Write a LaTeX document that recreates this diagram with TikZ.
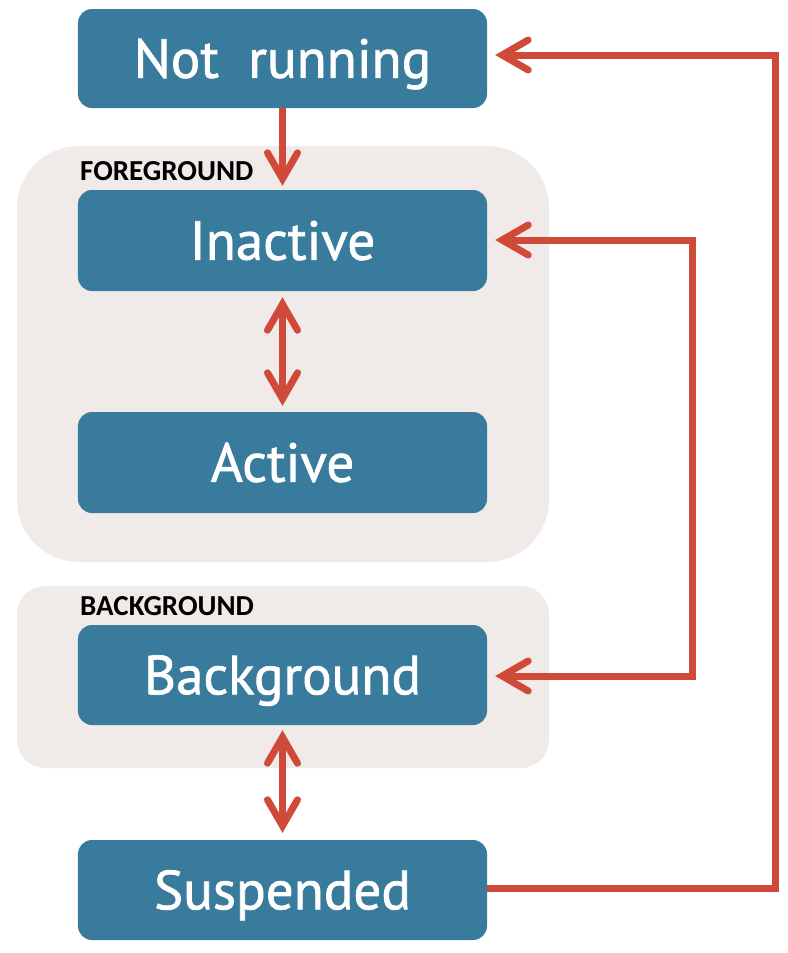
\documentclass[tikz,border=0pt]{standalone}
\usepackage{fontspec}
\setmainfont{PT Sans}
\newfontfamily\boxfont[FakeBold=1.3]{PT Sans}
\newfontfamily\labelfont{Carlito}
\usetikzlibrary{arrows.meta}
\definecolor{boxblue}{HTML}{387B9C}
\definecolor{flowred}{HTML}{D04A3A}
\definecolor{groupbg}{HTML}{F0EBE8}
\tikzset{
  statebox/.style={fill=boxblue, draw=none, rounded corners=14bp, minimum width=409bp,
    text=white, font=\boxfont\fontsize{55bp}{60bp}\selectfont, text height=38.5bp, text depth=0pt, inner sep=0pt},
  groupbox/.style={fill=groupbg, draw=none},
  grouplabel/.style={font=\labelfont\bfseries\fontsize{29bp}{32bp}\selectfont, inner sep=0pt, anchor=base west},
  flow/.style={draw=flowred, line width=7bp, line join=miter,
    arrows={-Straight Barb[length=26bp,width=30bp,line cap=round,line join=miter]}},
  flowboth/.style={flow, arrows={Straight Barb[length=26bp,width=30bp,line cap=round,line join=miter]-Straight Barb[length=26bp,width=30bp,line cap=round,line join=miter]}}
}
\begin{document}
\begin{tikzpicture}[x=1bp,y=-1bp]
\useasboundingbox (0,0) rectangle (788,953);
% groups
\path[groupbox, rounded corners=62bp] (17,146) rectangle (549,562);
\path[groupbox, rounded corners=28bp] (17,586) rectangle (549,768);
\node[grouplabel] (fgl) at (80,180) {FOREGROUND};
\node[grouplabel] (bgl) at (80,615) {BACKGROUND};
% states
\node[statebox, minimum height=99bp] (nr) at (282.5,58.5) {Not\ \ running};
\node[statebox, minimum height=101bp] (ina) at (282.5,240.5) {Inactive};
\node[statebox, minimum height=101bp] (act) at (282.5,462.5) {Active};
\node[statebox, minimum height=100bp] (bg) at (282.5,675) {Background};
\node[statebox, minimum height=100bp] (sus) at (282.5,890) {Suspended};
% connectors
\draw[flow, shorten >=4bp] (nr.south) -- (ina.north);
\draw[flowboth, shorten >=6bp, shorten <=6bp] (ina.south) -- (act.north);
\draw[flowboth, shorten >=7bp, shorten <=5bp] (bg.south) -- (sus.north);
\coordinate (r1) at (775,888);
\coordinate (r2) at (775,55);
\draw[flow, shorten >=8bp] (sus.east |- r1) -- (r1) -- (r2) -- (nr.east |- r2);
\coordinate (i1) at (692,240);
\coordinate (i2) at (692,676);
\draw[flowboth, shorten >=8bp, shorten <=8bp] (ina.east |- i1) -- (i1) -- (i2) -- (bg.east |- i2);
\end{tikzpicture}
\end{document}
